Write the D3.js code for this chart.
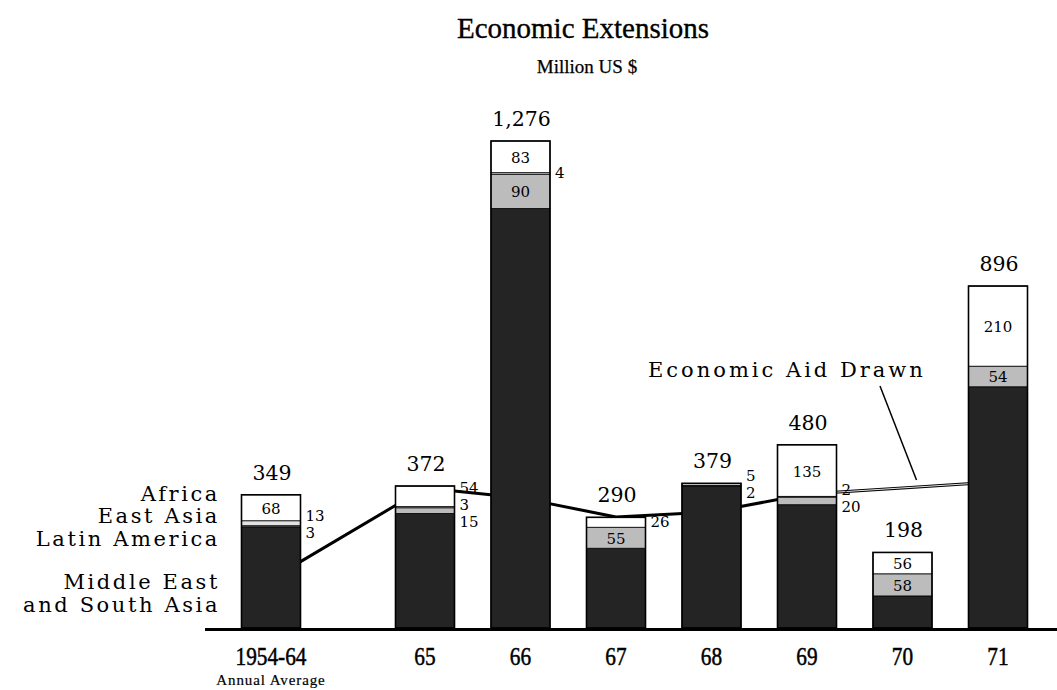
<!DOCTYPE html>
<html>
<head>
<meta charset="utf-8">
<script src="https://cdn.jsdelivr.net/npm/d3@7/dist/d3.min.js"></script>
<style>
  html, body { margin: 0; padding: 0; background: #fff; }
  svg { display: block; }
</style>
</head>
<body>
<svg id="chart" width="1057" height="690"></svg>
<script>
// ---------------- data ----------------
const categories = ["1954-64", "65", "66", "67", "68", "69", "70", "71"];
const totals = [349, 372, 1276, 290, 379, 480, 198, 896];
const middleEastSouthAsia = [265, 300, 1099, 209, 372, 323, 84, 632];
const latinAmerica = [3, 15, 90, 55, 0, 20, 58, 54];
const eastAsia = [13, 3, 4, 0, 2, 2, 0, 0];
const africa = [68, 54, 83, 26, 5, 135, 56, 210];
const aidDrawn = [128, 367, 341, 291, 304, 351, 367, 383];
const seriesNames = ["Middle East and South Asia", "Latin America", "East Asia", "Africa"];
const legendLines = [["Africa"], ["East Asia"], ["Latin America"], ["Middle East", "and South Asia"]];
// labels written beside the bar instead of inside: [category, series]
const outsideLabels = [
  ["1954-64", "East Asia"], ["1954-64", "Latin America"],
  ["65", "Africa"], ["65", "East Asia"], ["65", "Latin America"],
  ["66", "East Asia"], ["67", "Africa"],
  ["68", "Africa"], ["68", "East Asia"],
  ["69", "East Asia"], ["69", "Latin America"]
];
const insideHidden = ["Middle East and South Asia"]; // dark segment labels are illegible

// ---------------- layout ----------------
const svg = d3.select("#chart");
const serif = "'DejaVu Serif', serif";
const baseY = 628;
const firstOffset = -58.5;
const barW = 59;

const xp = d3.scalePoint().domain(categories).range([329.5, 998]);
const xc = c => xp(c) + (c === categories[0] ? firstOffset : 0);
const y = d3.scaleLinear().domain([0, d3.max(totals)]).range([baseY, 141]);

const fills = {
  "Middle East and South Asia": "#242424",
  "Latin America": "#bcbcbc",
  "East Asia": "#e2e2e2",
  "Africa": "#ffffff"
};
const seriesValues = {
  "Middle East and South Asia": middleEastSouthAsia,
  "Latin America": latinAmerica,
  "East Asia": eastAsia,
  "Africa": africa
};

const table = categories.map((c, i) => {
  const row = { cat: c };
  seriesNames.forEach(s => row[s] = seriesValues[s][i]);
  return row;
});
const stacked = d3.stack().keys(seriesNames)(table);

// ---------------- title ----------------
svg.append("text").attr("x", 583).attr("y", 38).attr("text-anchor", "middle")
  .attr("font-family", "'Liberation Serif', serif").attr("font-size", 29)
  .attr("stroke", "#000").attr("stroke-width", 0.35)
  .text("Economic Extensions");
svg.append("text").attr("x", 587).attr("y", 73).attr("text-anchor", "middle")
  .attr("font-family", "'Liberation Serif', serif").attr("font-size", 19)
  .attr("stroke", "#000").attr("stroke-width", 0.25)
  .text("Million US $");

// ---------------- aid drawn line (behind bars) ----------------
const linePts = categories.map((c, i) => [xc(c), y(aidDrawn[i])]);
const lineGen = d3.line();
svg.append("path").attr("d", lineGen(linePts)).attr("fill", "none")
  .attr("stroke", "#000").attr("stroke-width", 3).attr("stroke-linejoin", "round");
svg.append("path").attr("d", lineGen(linePts.slice(5))).attr("fill", "none")
  .attr("stroke", "#fff").attr("stroke-width", 0.9);

// ---------------- bars ----------------
const gBars = svg.append("g");
stacked.forEach(layer => {
  gBars.selectAll(null).data(layer).join("rect")
    .attr("x", d => xc(d.data.cat) - barW / 2)
    .attr("y", d => y(d[1]))
    .attr("width", barW)
    .attr("height", d => Math.max(0, y(d[0]) - y(d[1])))
    .attr("fill", fills[layer.key])
    .attr("stroke", "#000")
    .attr("stroke-width", 0.8);
});
// bar outline
gBars.selectAll(".outline").data(categories).join("rect")
  .attr("x", c => xc(c) - barW / 2)
  .attr("y", (c, i) => y(totals[i]))
  .attr("width", barW)
  .attr("height", (c, i) => baseY - y(totals[i]))
  .attr("fill", "none").attr("stroke", "#000").attr("stroke-width", 1.6);

// ---------------- totals above bars ----------------
svg.selectAll(".tot").data(categories).join("text")
  .attr("x", c => xc(c) + 1)
  .attr("y", (c, i) => y(totals[i]) - 15)
  .attr("text-anchor", "middle")
  .attr("font-family", serif).attr("font-size", 20.5)
  .text((c, i) => d3.format(",")(totals[i]));

// ---------------- segment labels ----------------
const isOutside = (c, s) => outsideLabels.some(o => o[0] === c && o[1] === s);
stacked.forEach(layer => {
  if (insideHidden.includes(layer.key)) return;
  layer.forEach(d => {
    const c = d.data.cat, v = d.data[layer.key];
    if (v <= 0 || isOutside(c, layer.key)) return;
    svg.append("text")
      .attr("x", xc(c)).attr("y", (y(d[0]) + y(d[1])) / 2 + 1)
      .attr("text-anchor", "middle").attr("dominant-baseline", "central")
      .attr("font-family", serif).attr("font-size", 15)
      .text(v);
  });
});
// outside labels, spread so they do not collide
categories.forEach((c, i) => {
  const items = [];
  stacked.forEach(layer => {
    const d = layer[i];
    const v = d.data[layer.key];
    if (v > 0 && isOutside(c, layer.key)) items.push({ v, want: (y(d[0]) + y(d[1])) / 2 });
  });
  if (!items.length) return;
  items.sort((a, b) => a.want - b.want);
  const gap = 17;
  const mean = d3.mean(items, d => d.want);
  const start = mean - gap * (items.length - 1) / 2;
  items.forEach((it, k) => it.pos = items.length > 1 ? start + k * gap : it.want);
  items.forEach(it => {
    svg.append("text")
      .attr("x", xc(c) + barW / 2 + 5).attr("y", it.pos)
      .attr("dominant-baseline", "central")
      .attr("font-family", serif).attr("font-size", 15)
      .text(it.v);
  });
});

// ---------------- baseline and axis labels ----------------
svg.append("line").attr("x1", 205).attr("x2", 1057).attr("y1", baseY + 1.5).attr("y2", baseY + 1.5)
  .attr("stroke", "#000").attr("stroke-width", 3);
svg.selectAll(".tick").data(categories).join("text")
  .attr("transform", c => `translate(${xc(c)},${665}) scale(0.82,1)`)
  .attr("text-anchor", "middle")
  .attr("font-family", "'Liberation Serif', serif").attr("font-size", 26)
  .attr("stroke", "#000").attr("stroke-width", 0.5)
  .text(c => c);
svg.append("text").attr("x", xc(categories[0])).attr("y", 685)
  .attr("text-anchor", "middle").attr("font-family", "'Liberation Serif', serif").attr("font-size", 15)
  .attr("letter-spacing", 0.9).attr("stroke", "#000").attr("stroke-width", 0.2)
  .text("Annual Average");

// ---------------- legend ----------------
const legendBaselines = [[501], [523], [546], [589, 612]];
legendLines.forEach((lines, k) => {
  lines.forEach((t, j) => {
    svg.append("text").attr("x", 220).attr("y", legendBaselines[k][j])
      .attr("text-anchor", "end").attr("font-family", serif).attr("font-size", 21)
      .attr("letter-spacing", 2.6)
      .text(t);
  });
});

// ---------------- annotation ----------------
svg.append("text").attr("x", 648).attr("y", 377)
  .attr("font-family", serif).attr("font-size", 21).attr("letter-spacing", 3)
  .text("Economic Aid Drawn");
svg.append("line").attr("x1", 880).attr("y1", 386).attr("x2", xc("70") + 14).attr("y2", y(aidDrawn[6]) - 8)
  .attr("stroke", "#000").attr("stroke-width", 1.5);
</script>
</body>
</html>
